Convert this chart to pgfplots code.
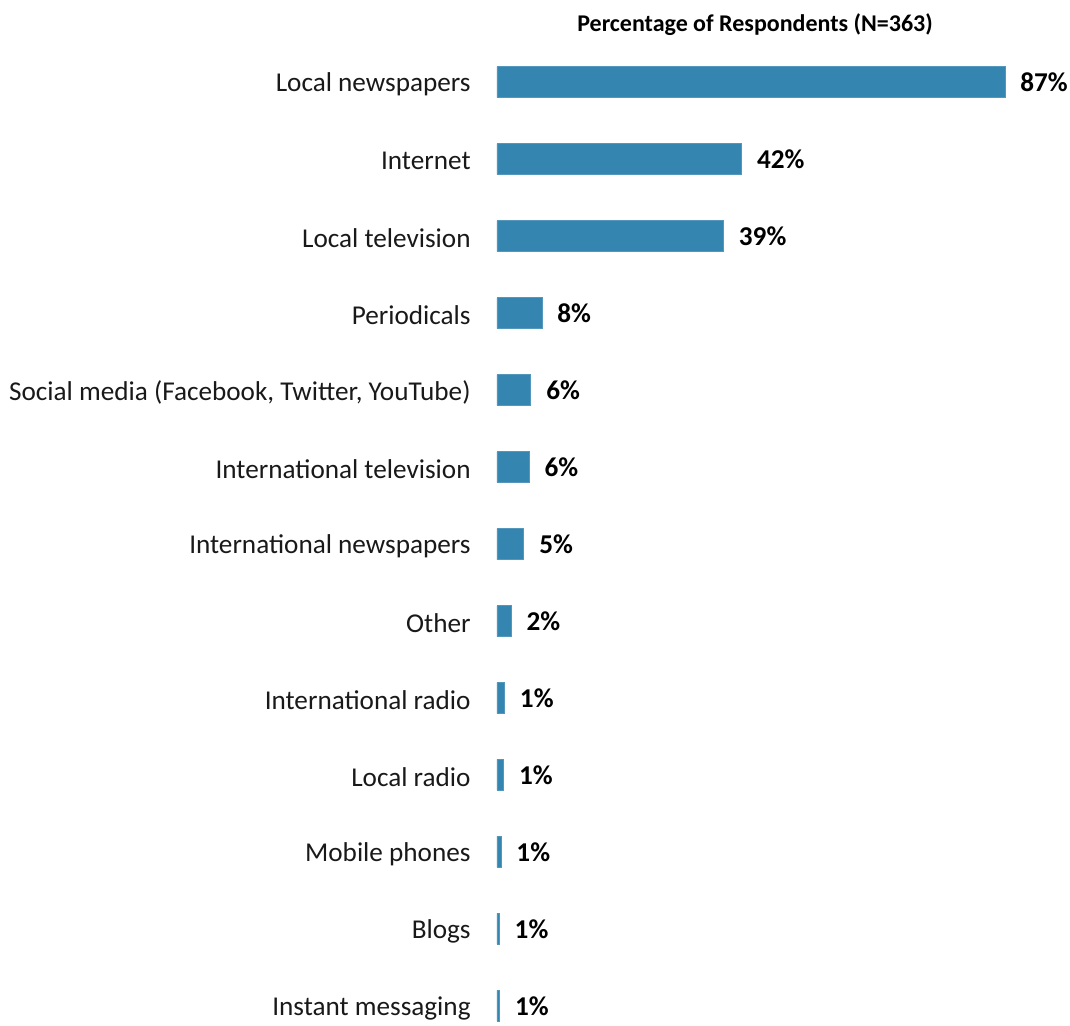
\documentclass[border=0pt]{standalone}
\usepackage{pgfplots}
\pgfplotsset{compat=1.18}
\usepackage{pgfplotstable}
\usepackage{fontspec}
\setmainfont{Carlito}
\definecolor{barblue}{HTML}{3585B1}

% val = bar length, pos = row (0 at top), lab = printed value
\pgfplotstableread{
val  pos lab
87.0 0   87
41.9 1   42
38.8 2   39
7.7  3   8
5.8  4   6
5.5  5   6
4.6  6   5
2.45 7   2
1.3  8   1
1.15 9   1
0.7  10  1
0.4  11  1
0.45 12  1
}\sources

\begin{document}
\begin{tikzpicture}
\begin{axis}[
    scale only axis,
    width=254pt,
    height=509pt,
    xmin=0, xmax=87,
    ymin=-1.065, ymax=12.156,
    y dir=reverse,
    axis line style={draw=none},
    clip=false,
    ytick={0,...,12},
    yticklabels={Local newspapers, Internet, Local television, Periodicals,
        {Social media (Facebook, Twitter, YouTube)}, International television,
        International newspapers, Other, International radio, Local radio,
        Mobile phones, Blogs, Instant messaging},
    xtick=\empty,
    major tick length=0pt,
    ytick style={draw=none},
    tick label style={font=\fontsize{13.6}{16}\selectfont, text=black!90},
    yticklabel style={anchor=east, inner sep=0pt, xshift=-13pt, yshift=-1pt},
    xbar, bar width=15.5pt,
    nodes near coords={\pgfplotspointmeta\%},
    point meta=explicit symbolic,
    every node near coord/.append style={anchor=west, inner sep=0pt, xshift=7.5pt,
        font=\fontsize{13.6}{16}\selectfont\bfseries, text=black},
]
\addplot[fill=barblue, draw=barblue!85!white, line width=0.4pt]
    table[x=val, y=pos, meta=lab] {\sources};
\node[font=\fontsize{12}{14}\selectfont\bfseries, text=black] at (axis cs:44.2,-0.74)
    {Percentage of Respondents (N=363)};
\end{axis}
\pgfresetboundingbox
\useasboundingbox (-248.5pt,-4pt) rectangle (286.5pt,509pt);
\end{tikzpicture}
\end{document}
